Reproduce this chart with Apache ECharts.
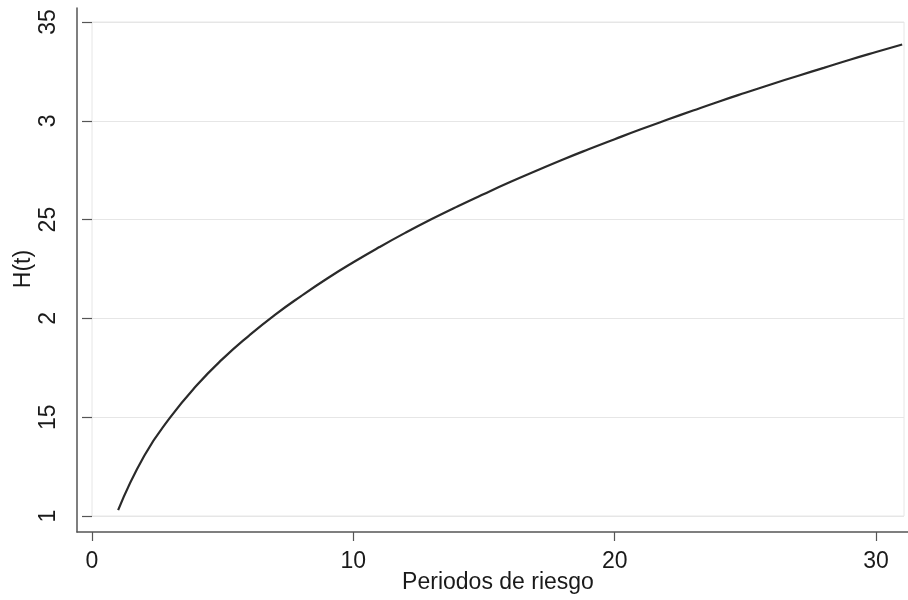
<!DOCTYPE html>
<html>
<head>
<meta charset="utf-8">
<script src="https://cdn.jsdelivr.net/npm/echarts@6/dist/echarts.min.js"></script>
<style>
  html, body { margin: 0; padding: 0; background: #ffffff; }
  #chart { width: 908px; height: 600px; }
</style>
</head>
<body>
<div id="chart"></div>
<script>
// Data
const periods = [1, 2, 3, 4, 5, 6, 7, 8, 9, 10, 11, 12, 13, 14, 15, 16, 17, 18, 19, 20, 21, 22, 23, 24, 25, 26, 27, 28, 29, 30, 31];
const hazard = [1.03, 1.305, 1.50, 1.66, 1.795, 1.912, 2.018, 2.113, 2.202, 2.284, 2.361, 2.434, 2.503, 2.568, 2.630, 2.690, 2.747, 2.803, 2.856, 2.907, 2.957, 3.005, 3.052, 3.098, 3.142, 3.185, 3.227, 3.268, 3.309, 3.348, 3.386];
const xTickValues = [0, 10, 20, 30];
const yTickValues = [1, 1.5, 2, 2.5, 3, 3.5];
const yTickLabels = ["1", "15", "2", "25", "3", "35"];
const xTitle = "Periodos de riesgo";
const yTitle = "H(t)";

const FONT = "'Liberation Sans', Arial, Helvetica, sans-serif";
const TEXT = "#1a1a1a";
const AXIS = "#555555";

const chart = echarts.init(document.getElementById('chart'), null, { renderer: 'canvas' });
chart.setOption({
  animation: false,
  backgroundColor: '#ffffff',
  grid: [
    { left: 77, right: 0, top: 8, bottom: 68, show: false, outerBoundsMode: 'none', containLabel: false },
    { left: 92, right: 4, top: 22, bottom: 84, show: true, borderColor: '#e6e6e6', borderWidth: 1, backgroundColor: 'transparent', outerBoundsMode: 'none', containLabel: false }
  ],
  xAxis: [
    {
      gridIndex: 0, type: 'value', min: 0, max: 1,
      axisLine: { show: true, lineStyle: { color: AXIS, width: 1.5 } },
      axisTick: { show: false }, axisLabel: { show: false }, splitLine: { show: false }
    },
    {
      gridIndex: 1, type: 'value', min: 0, max: 31.07, offset: 16,
      axisLine: { show: false },
      axisTick: { show: true, length: 9, customValues: xTickValues, lineStyle: { color: AXIS, width: 1.2 } },
      axisLabel: { show: true, customValues: xTickValues, margin: 18, color: TEXT, fontSize: 23, fontFamily: FONT },
      splitLine: { show: false },
      name: xTitle, nameLocation: 'middle', nameGap: 39, nameMoveOverlap: false,
      nameTextStyle: { color: TEXT, fontSize: 23, fontFamily: FONT }
    }
  ],
  yAxis: [
    {
      gridIndex: 0, type: 'value', min: 0, max: 1,
      axisLine: { show: true, lineStyle: { color: AXIS, width: 1.5 } },
      axisTick: { show: false }, axisLabel: { show: false }, splitLine: { show: false }
    },
    {
      gridIndex: 1, type: 'value', min: 1, max: 3.5, interval: 0.5, offset: 15,
      axisLine: { show: false },
      axisTick: { show: true, length: 10, customValues: yTickValues, lineStyle: { color: AXIS, width: 1.2 } },
      axisLabel: {
        show: true, customValues: yTickValues, rotate: 90, margin: 17, color: TEXT, fontSize: 23, fontFamily: FONT,
        formatter: function (v) {
          const i = yTickValues.findIndex(t => Math.abs(t - v) < 1e-9);
          return i >= 0 ? yTickLabels[i] : '';
        }
      },
      splitLine: { show: true, lineStyle: { color: '#e6e6e6', width: 1 } },
      name: yTitle, nameLocation: 'middle', nameGap: 42, nameRotate: 90, nameMoveOverlap: false,
      nameTextStyle: { color: TEXT, fontSize: 23, fontFamily: FONT }
    }
  ],
  series: [
    {
      type: 'line', xAxisIndex: 1, yAxisIndex: 1,
      data: periods.map((t, i) => [t, hazard[i]]),
      smooth: true, showSymbol: false, symbol: 'none',
      lineStyle: { color: '#2a2a2a', width: 2.2 }
    }
  ]
});
</script>
</body>
</html>
